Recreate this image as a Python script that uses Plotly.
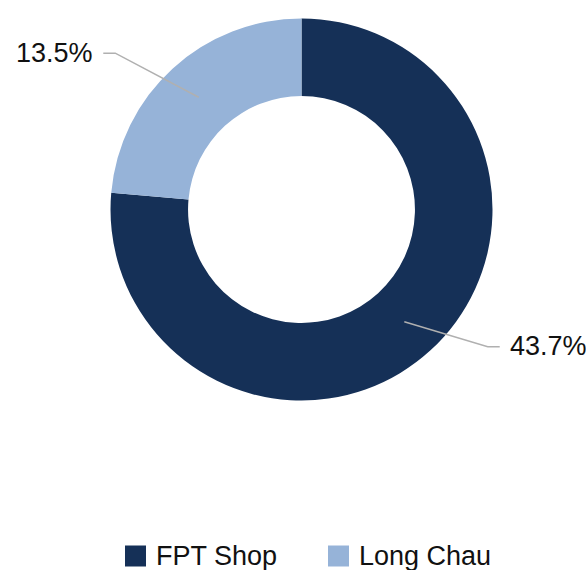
import math
import plotly.graph_objects as go

# ---- data ----
labels = ["FPT Shop", "Long Chau"]
values = [43.7, 13.5]
label_texts = ["43.7%", "13.5%"]
colors = ["#153057", "#96b3d8"]

# ---- layout constants (pixels) ----
W, H = 586, 570
CX, CY, R = 301.5, 209.5, 191.0
HOLE = 0.594
ELBOW_X = 0.975           # elbow horizontal extent (fraction of R)
ELBOW_R = [0.975, 1.11]   # elbow radial factor along slice mid-direction (y)
TAIL = 12                 # horizontal tail length
GAP = 10                  # gap between tail and text
FONT = "Liberation Sans, Arial, Helvetica, sans-serif"
FSIZE = 27
LINE_COLOR = "#b0b0b0"


def px(x):
    return x / W


def py(y):
    return 1 - y / H


fig = go.Figure(
    go.Pie(
        labels=labels,
        values=values,
        hole=HOLE,
        sort=False,
        direction="clockwise",
        rotation=0,
        marker=dict(colors=colors, line=dict(width=0)),
        textinfo="none",
        hoverinfo="label+value",
        showlegend=False,
        domain=dict(x=[px(CX - R), px(CX + R)], y=[py(CY + R), py(CY - R)]),
    )
)

total = sum(values)
cum = 0.0
shapes = []
annotations = []
rmid = R * (1 + HOLE) / 2
for i, (v, t) in enumerate(zip(values, label_texts)):
    theta = 2 * math.pi * (cum + v / 2) / total
    cum += v
    dx, dy = math.sin(theta), -math.cos(theta)
    sx, sy = CX + rmid * dx, CY + rmid * dy
    side = 1 if dx >= 0 else -1
    ex, ey = CX + side * ELBOW_X * R, CY + dy * ELBOW_R[i] * R
    tx = ex + side * TAIL
    path = f"M {px(sx)},{py(sy)} L {px(ex)},{py(ey)} L {px(tx)},{py(ey)}"
    shapes.append(dict(type="path", xref="paper", yref="paper", path=path,
                       line=dict(color=LINE_COLOR, width=1.5)))
    annotations.append(dict(
        x=px(tx + side * GAP), y=py(ey - 0.5), xref="paper", yref="paper",
        text=t, showarrow=False, xanchor="left" if side > 0 else "right",
        yanchor="middle", borderpad=0, borderwidth=0,
        font=dict(family=FONT, size=FSIZE, color="#111111")))

# ---- custom legend ----
LEG_Y = 556
LEG_SQ = 21
leg_x = [125, 328]
for name, c, lx in zip(labels, colors, leg_x):
    shapes.append(dict(type="rect", xref="paper", yref="paper",
                       x0=px(lx), x1=px(lx + LEG_SQ),
                       y0=py(LEG_Y + LEG_SQ / 2), y1=py(LEG_Y - LEG_SQ / 2),
                       fillcolor=c, line=dict(width=0)))
    annotations.append(dict(
        x=px(lx + LEG_SQ + 10), y=py(LEG_Y), xref="paper", yref="paper",
        text=name, showarrow=False, xanchor="left", yanchor="middle",
        borderpad=0, borderwidth=0,
        font=dict(family=FONT, size=FSIZE, color="#111111")))

fig.update_layout(
    width=W, height=H,
    margin=dict(l=0, r=0, t=0, b=0),
    paper_bgcolor="white", plot_bgcolor="white",
    showlegend=False,
    shapes=shapes,
    annotations=annotations,
    font=dict(family=FONT),
)

fig.write_html("out.html")
